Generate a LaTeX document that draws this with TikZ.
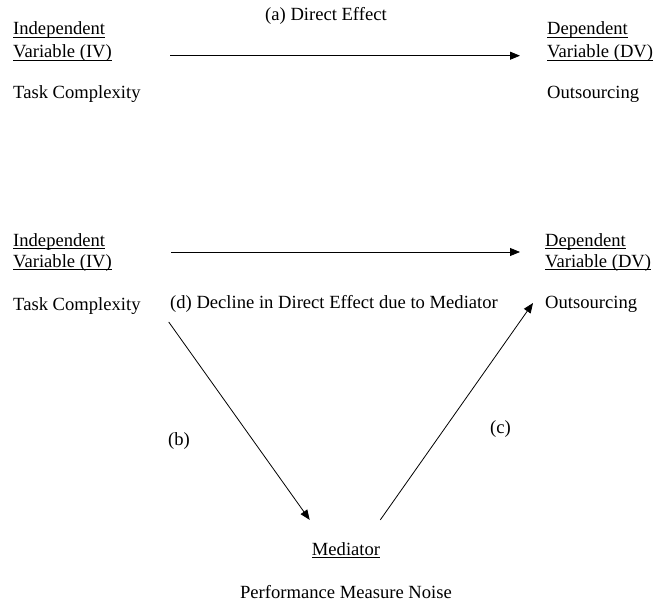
\documentclass[tikz,border=0pt]{standalone}
\usepackage{fontspec}
\setmainfont{Liberation Serif}
\usetikzlibrary{arrows.meta,positioning,calc}

\newcommand{\ulbox}[1]{\setbox0=\hbox{#1}\rlap{\rule[-2.8bp]{\wd0}{0.9bp}}\box0}

\begin{document}
\begin{tikzpicture}[
    x=1bp, y=-1bp,
    lbl/.style={inner sep=0pt, anchor=base west, font=\fontsize{18.6bp}{22bp}\selectfont},
    mid/.style={lbl, anchor=base},
    arr/.style={-{Triangle[length=10bp,width=8bp]}, line width=0.8bp}
]
\useasboundingbox (0,0) rectangle (655,603);

% (a) direct effect
\node[lbl] (ind1) at (13,35) {\ulbox{Independent}};
\node[lbl] (var1) at (13,58) {\ulbox{Variable (IV)}};
\node[lbl] (tc1) at (13,99) {Task Complexity};
\node[lbl] (dep1) at (547,35) {\ulbox{Dependent}};
\node[lbl] (dvar1) at (547,58) {\ulbox{Variable (DV)}};
\node[lbl] (out1) at (547,99) {Outsourcing};
\node[lbl] (lba) at (265,21) {(a) Direct Effect};

\draw[arr, shorten <=58bp, shorten >=27bp] (var1.mid east) -- (dvar1.mid west);

% mediated effect
\node[lbl] (ind2) at (13,246) {\ulbox{Independent}};
\node[lbl] (var2) at (13,267) {\ulbox{Variable (IV)}};
\node[lbl] (tc2) at (13,310) {Task Complexity};
\node[lbl] (dep2) at (545,246) {\ulbox{Dependent}};
\node[lbl] (dvar2) at (545,267) {\ulbox{Variable (DV)}};
\node[lbl] (out2) at (545,308) {Outsourcing};
\node[lbl] (lbd) at (170,308) {(d) Decline in Direct Effect due to Mediator};
\node[mid] (med) at (346,555) {\ulbox{Mediator}};
\node[mid] (pmn) at (346,598) {Performance Measure Noise};
\node[lbl] (lbb) at (168,445) {(b)};
\node[lbl] (lbc) at (490,433) {(c)};

\draw[arr, shorten <=66bp, shorten >=25bp] ([yshift=-6bp]ind2.base east) -- ([yshift=-6bp]dep2.base west);
\draw[arr] ([shift={(28bp,-12bp)}]tc2.base east) -- ([shift={(-2bp,22bp)}]med.north west);
\draw[arr] ([yshift=22bp]med.north east) -- ([shift={(-12bp,5bp)}]out2.base west);
\end{tikzpicture}
\end{document}
